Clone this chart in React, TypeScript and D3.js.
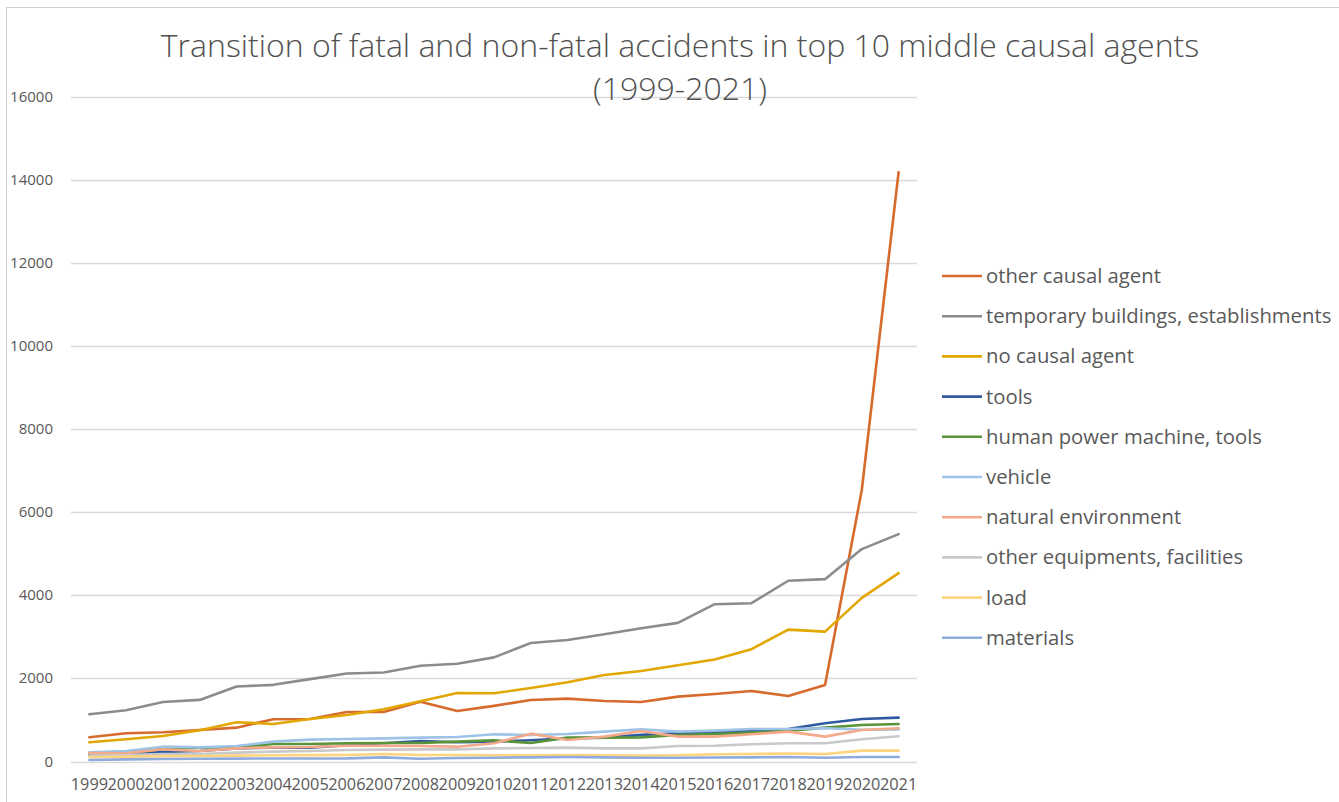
import React, { useEffect, useRef } from 'react'
import * as d3 from 'd3'

const years = ['1999', '2000', '2001', '2002', '2003', '2004', '2005', '2006', '2007', '2008', '2009', '2010',
  '2011', '2012', '2013', '2014', '2015', '2016', '2017', '2018', '2019', '2020', '2021']

const seriesNames = [
  'other causal agent',
  'temporary buildings, establishments',
  'no causal agent',
  'tools',
  'human power machine, tools',
  'vehicle',
  'natural environment',
  'other equipments, facilities',
  'load',
  'materials',
]

const seriesColors = ['#D76A2D', '#8C8C8C', '#E2A700', '#2F5AA0', '#5A9438', '#9DC3E6', '#F4A98A', '#C9C9C9', '#FFD47E', '#8FAADC']

const otherCausal = [583, 680, 704, 759, 815, 1017, 1024, 1193, 1193, 1441, 1217, 1340, 1482, 1514, 1458, 1434, 1562, 1627, 1699, 1579, 1844, 6543, 14190]
const temporaryBuildings = [1136, 1233, 1434, 1483, 1806, 1846, 1983, 2120, 2144, 2305, 2353, 2507, 2853, 2926, 3063, 3208, 3337, 3788, 3812, 4352, 4391, 5114, 5475]
const noCausal = [463, 535, 614, 752, 945, 904, 1024, 1120, 1258, 1450, 1650, 1643, 1771, 1908, 2084, 2181, 2318, 2454, 2704, 3176, 3128, 3940, 4535]
const tools = [150, 190, 230, 253, 317, 333, 333, 390, 438, 490, 462, 478, 510, 558, 574, 640, 679, 703, 743, 783, 920, 1024, 1056]
const humanPower = [170, 195, 300, 330, 345, 422, 422, 438, 446, 446, 478, 510, 446, 574, 574, 580, 639, 663, 695, 735, 815, 880, 904]
const vehicle = [221, 253, 357, 341, 373, 478, 526, 542, 558, 574, 590, 655, 639, 663, 719, 775, 719, 743, 783, 783, 800, 765, 770]
const naturalEnv = [205, 197, 293, 253, 317, 341, 349, 381, 380, 373, 357, 438, 671, 518, 599, 735, 599, 599, 655, 719, 599, 759, 800]
const otherEquip = [141, 157, 181, 181, 213, 237, 253, 277, 285, 293, 293, 317, 325, 333, 317, 317, 373, 381, 414, 438, 438, 534, 607]
const load = [101, 117, 125, 133, 141, 149, 153, 157, 181, 157, 157, 149, 149, 155, 149, 141, 149, 173, 181, 189, 181, 261, 261]
const materials = [36, 52, 60, 68, 70, 72, 74, 76, 100, 68, 84, 92, 100, 108, 100, 92, 92, 96, 100, 108, 92, 108, 108]

const seriesValues = [otherCausal, temporaryBuildings, noCausal, tools, humanPower, vehicle, naturalEnv, otherEquip, load, materials]

const yTicks = [0, 2000, 4000, 6000, 8000, 10000, 12000, 14000, 16000]

const titleLines = ['Transition of fatal and non-fatal accidents in top 10 middle causal agents', '(1999-2021)']

const App = () => {
  const ref = useRef<SVGSVGElement>(null)

  const width = 1339
  const height = 802
  const plot = { left: 71, right: 917, top: 97, bottom: 761.5 }
  const textColor = '#595959'
  const font = "'Open Sans', 'Noto Sans', sans-serif"

  useEffect(() => {
    const svg = d3.select(ref.current)
    svg.selectAll('*').remove()

    const xScale = d3.scalePoint<string>()
      .domain(years)
      .range([plot.left, plot.right])
      .padding(0.5)

    const yScale = d3.scaleLinear()
      .domain([0, 16000])
      .range([plot.bottom, plot.top])

    // chart frame
    svg.append('rect')
      .attr('x', 6.5).attr('y', 7.5)
      .attr('width', width + 10).attr('height', height)
      .attr('fill', 'white')
      .attr('stroke', '#D0D0D0')

    // gridlines
    svg.append('g')
      .selectAll('line')
      .data(yTicks)
      .join('line')
      .attr('x1', plot.left).attr('x2', plot.right)
      .attr('y1', d => Math.round(yScale(d)) + 0.5)
      .attr('y2', d => Math.round(yScale(d)) + 0.5)
      .attr('stroke', '#D9D9D9')
      .attr('stroke-width', 1.3)

    // y labels
    svg.append('g')
      .selectAll('text')
      .data(yTicks)
      .join('text')
      .attr('x', 53)
      .attr('y', d => yScale(d) + 5)
      .attr('text-anchor', 'end')
      .attr('font-family', font)
      .attr('font-size', 15)
      .attr('fill', textColor)
      .text(d => d)

    // x labels
    svg.append('g')
      .selectAll('text')
      .data(years)
      .join('text')
      .attr('x', d => xScale(d)!)
      .attr('y', 790)
      .attr('text-anchor', 'middle')
      .attr('font-family', font)
      .attr('font-size', 16.3)
      .attr('fill', textColor)
      .text(d => d)

    // lines
    const line = d3.line<number>()
      .x((d, i) => xScale(years[i])!)
      .y(d => yScale(d))
      .curve(d3.curveLinear)

    svg.append('g')
      .selectAll('path')
      .data(seriesValues)
      .join('path')
      .attr('d', d => line(d))
      .attr('fill', 'none')
      .attr('stroke', (d, i) => seriesColors[i])
      .attr('stroke-width', 2.6)
      .attr('stroke-linejoin', 'round')
      .attr('stroke-linecap', 'round')

    // title
    svg.append('g')
      .selectAll('text')
      .data(titleLines)
      .join('text')
      .attr('x', 680)
      .attr('y', (d, i) => 57 + i * 43)
      .attr('text-anchor', 'middle')
      .attr('font-family', font)
      .attr('font-weight', 300)
      .attr('font-size', 32)
      .attr('fill', '#505050')
      .text(d => d)

    // legend
    const legend = svg.append('g')
      .selectAll('g')
      .data(seriesNames)
      .join('g')
      .attr('transform', (d, i) => 'translate(942, ' + (276 + i * 40.2) + ')')

    legend.append('line')
      .attr('x1', 0).attr('x2', 40)
      .attr('stroke', (d, i) => seriesColors[i])
      .attr('stroke-width', 2.6)

    legend.append('text')
      .attr('x', 44)
      .attr('y', 7)
      .attr('font-family', font)
      .attr('font-size', 20.3)
      .attr('fill', textColor)
      .text(d => d)
  }, [])

  return (
    <div>
      <svg ref={ref} width={width} height={height} style={{ position: 'absolute', left: 0, top: 0 }}></svg>
    </div>
  )
}

export default App
